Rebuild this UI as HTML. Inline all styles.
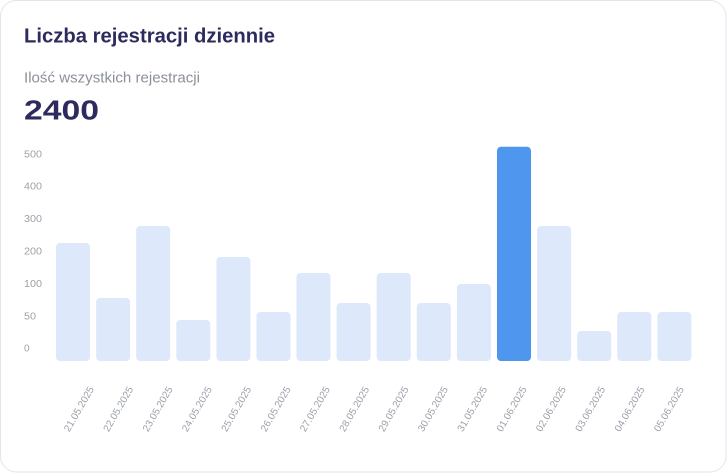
<!DOCTYPE html>
<html>
<head>
<meta charset="utf-8">
<style>
  html, body { margin:0; padding:0; background:#ffffff; }
  body { width:727px; height:473px; overflow:hidden; }
  svg { display:block; }
  text { font-family: "Liberation Sans", "DejaVu Sans", sans-serif; }
</style>
</head>
<body>
<svg width="727" height="473" viewBox="0 0 727 473" xmlns="http://www.w3.org/2000/svg">
  <rect x="0.5" y="0.5" width="725.5" height="471.5" rx="16" ry="16" fill="#ffffff" stroke="#e4e5e9" stroke-width="1"/>

  <text x="24" y="42.7" font-size="20" font-weight="bold" fill="#2d2b5e" textLength="251" lengthAdjust="spacingAndGlyphs">Liczba rejestracji dziennie</text>
  <text x="24" y="82.3" font-size="14.6" fill="#8b9099" textLength="176" lengthAdjust="spacingAndGlyphs">Ilość wszystkich rejestracji</text>
  <text x="24" y="119.3" font-size="28" font-weight="bold" fill="#2d2b5e" textLength="75" lengthAdjust="spacingAndGlyphs">2400</text>

  <g font-size="10" fill="#9ca1aa">
    <text x="24" y="157.3" textLength="18" lengthAdjust="spacingAndGlyphs">500</text>
    <text x="24" y="189.3" textLength="18" lengthAdjust="spacingAndGlyphs">400</text>
    <text x="24" y="222" textLength="18" lengthAdjust="spacingAndGlyphs">300</text>
    <text x="24" y="254.7" textLength="18" lengthAdjust="spacingAndGlyphs">200</text>
    <text x="24" y="287" textLength="18" lengthAdjust="spacingAndGlyphs">100</text>
    <text x="24" y="319.3" textLength="12" lengthAdjust="spacingAndGlyphs">50</text>
    <text x="24" y="351.7">0</text>
  </g>

  <g fill="#dde8fa">
    <rect x="56" y="243" width="34" height="118" rx="4"/>
    <rect x="96.1" y="298" width="34" height="63" rx="4"/>
    <rect x="136.2" y="226" width="34" height="135" rx="4"/>
    <rect x="176.3" y="320" width="34" height="41" rx="4"/>
    <rect x="216.4" y="257" width="34" height="104" rx="4"/>
    <rect x="256.5" y="312" width="34" height="49" rx="4"/>
    <rect x="296.5" y="273" width="34" height="88" rx="4"/>
    <rect x="336.6" y="303" width="34" height="58" rx="4"/>
    <rect x="376.7" y="273" width="34" height="88" rx="4"/>
    <rect x="416.8" y="303" width="34" height="58" rx="4"/>
    <rect x="456.9" y="284" width="34" height="77" rx="4"/>
    <rect x="537.1" y="226" width="34" height="135" rx="4"/>
    <rect x="577.2" y="331" width="34" height="30" rx="4"/>
    <rect x="617.3" y="312" width="34" height="49" rx="4"/>
    <rect x="657.4" y="312" width="34" height="49" rx="4"/>
  </g>
  <rect x="497" y="146.7" width="34" height="214.3" rx="4" fill="#4f96ee"/>

  <g font-size="10" fill="#9ca1aa" text-anchor="end">
    <text transform="translate(94.3,389) rotate(-60)">21.05.2025</text>
    <text transform="translate(133.6,389) rotate(-60)">22.05.2025</text>
    <text transform="translate(173.0,389) rotate(-60)">23.05.2025</text>
    <text transform="translate(212.3,389) rotate(-60)">24.05.2025</text>
    <text transform="translate(251.6,389) rotate(-60)">25.05.2025</text>
    <text transform="translate(291.0,389) rotate(-60)">26.05.2025</text>
    <text transform="translate(330.3,389) rotate(-60)">27.05.2025</text>
    <text transform="translate(369.6,389) rotate(-60)">28.05.2025</text>
    <text transform="translate(408.9,389) rotate(-60)">29.05.2025</text>
    <text transform="translate(448.3,389) rotate(-60)">30.05.2025</text>
    <text transform="translate(487.6,389) rotate(-60)">31.05.2025</text>
    <text transform="translate(526.9,389) rotate(-60)">01.06.2025</text>
    <text transform="translate(566.3,389) rotate(-60)">02.06.2025</text>
    <text transform="translate(605.6,389) rotate(-60)">03.06.2025</text>
    <text transform="translate(644.9,389) rotate(-60)">04.06.2025</text>
    <text transform="translate(684.3,389) rotate(-60)">05.06.2025</text>
  </g>
</svg>
</body>
</html>
